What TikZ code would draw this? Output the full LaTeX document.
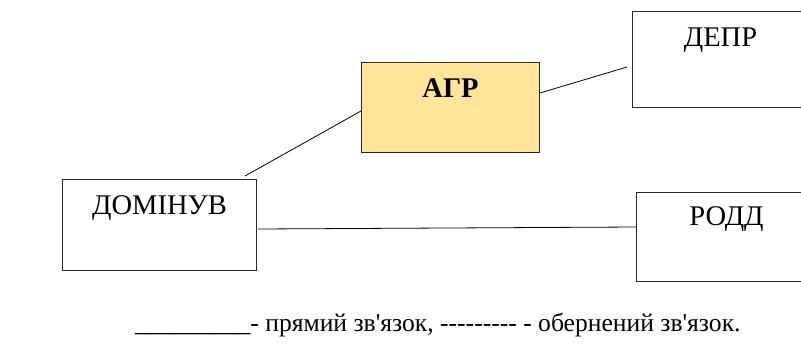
\documentclass[tikz,border=0pt]{standalone}
\usepackage{fontspec}
\setmainfont[Ligatures=TeXOff]{Liberation Serif}
\definecolor{agrfill}{RGB}{255,229,153}
\definecolor{boxline}{RGB}{40,40,40}
\begin{document}
\begin{tikzpicture}[x=1pt,y=-1pt,
  box/.style={draw=boxline,line width=1pt,rectangle,inner sep=0pt,anchor=north west},
  boxtext/.style={anchor=north,inner sep=0pt,font=\fontsize{28.5}{32}\selectfont},
  link/.style={draw=black,line width=0.8pt}]
\useasboundingbox (0,0) rectangle (801,359);
% boxes
\node[box,minimum width=194pt,minimum height=91pt] (dom) at (62,179) {};
\node[box,fill=agrfill,minimum width=178pt,minimum height=90pt] (agr) at (361,62) {};
\node[box,minimum width=176pt,minimum height=96pt] (depr) at (632,11) {};
\node[box,minimum width=180pt,minimum height=89pt] (rodd) at (636,192) {};
% texts
\node[boxtext] (domt) at ([yshift=-16pt]dom.north) {ДОМІНУВ};
\node[boxtext,font=\fontsize{28.5}{32}\selectfont\bfseries] (agrt) at ([yshift=-16pt]agr.north) {АГР};
\node[boxtext] (deprt) at ([yshift=-17pt]depr.north) {ДЕПР};
\node[boxtext] (roddt) at ([yshift=-14pt]rodd.north) {РОДД};
% connector ends
\coordinate (c1a) at (245,176);
\coordinate (c1b) at (agr.west |- 0,111);
\coordinate (c2a) at (agr.east |- 0,93);
\coordinate (c2b) at (627,67);
\coordinate (c3a) at (258,229);
\coordinate (c3b) at (rodd.west |- 0,227);
\draw[link] (c1a) -- (c1b);
\draw[link] (c2a) -- (c2b);
\draw[link] (c3a) -- (c3b);
% caption
\node[anchor=base west,inner sep=0pt,font=\fontsize{25.6}{29}\selectfont] (cap) at (135,331)
  {\_\_\_\_\_\_\_\_\_- прямий зв'язок, --------- - обернений зв'язок.};
\end{tikzpicture}
\end{document}
